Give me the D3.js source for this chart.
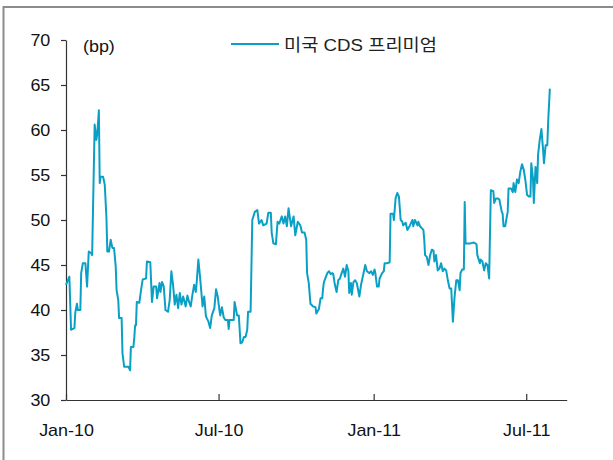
<!DOCTYPE html>
<html>
<head>
<meta charset="utf-8">
<script src="https://cdn.jsdelivr.net/npm/d3@7"></script>
<style>
  html, body { margin: 0; padding: 0; background: #fff; }
  svg { display: block; font-family: "Liberation Sans", Arial, "Noto Sans CJK KR", sans-serif; }
</style>
</head>
<body>
<div id="chart"></div>
<script>
// 미국 CDS 프리미엄 (bp), 2010-01 ~ 2011-07
const seriesName = '미국 CDS 프리미엄';
const unitLabel = '(bp)';
const yTicks = [30, 35, 40, 45, 50, 55, 60, 65, 70];
const xTicks = ['2010-01-01', '2010-07-01', '2011-01-01', '2011-07-01'];
const xDomain = ['2010-01-01', '2011-08-18'];
const yDomain = [30, 70];

const cds2010 = [
  ['2010-01-01',42.8],['2010-01-05',43.7],['2010-01-07',37.8],['2010-01-09',37.9],['2010-01-11',38.0],['2010-01-12',39.7],
  ['2010-01-14',40.7],['2010-01-15',40.0],['2010-01-18',40.0],['2010-01-19',44.1],['2010-01-21',45.2],['2010-01-24',45.2],
  ['2010-01-26',42.6],['2010-01-28',46.5],['2010-01-31',46.3],['2010-02-01',46.1],['2010-02-04',60.6],['2010-02-06',58.9],
  ['2010-02-07',59.5],['2010-02-09',62.2],['2010-02-10',54.1],['2010-02-11',54.8],['2010-02-14',54.8],['2010-02-16',53.9],
  ['2010-02-18',50.2],['2010-02-19',46.5],['2010-02-21',46.5],['2010-02-23',47.8],['2010-02-25',46.9],['2010-02-27',46.9],
  ['2010-03-01',44.8],['2010-03-02',42.2],['2010-03-04',41.1],['2010-03-05',39.1],['2010-03-08',39.1],['2010-03-09',35.2],
  ['2010-03-11',33.7],['2010-03-14',33.7],['2010-03-16',33.7],['2010-03-18',33.3],['2010-03-19',35.9],['2010-03-22',35.9],
  ['2010-03-23',36.9],['2010-03-24',38.3],['2010-03-25',38.3],['2010-03-26',40.9],['2010-03-29',40.8],['2010-03-31',42.2],
  ['2010-04-02',43.4],['2010-04-06',43.5],['2010-04-07',45.4],['2010-04-11',45.3],['2010-04-13',40.9],['2010-04-15',42.6],
  ['2010-04-18',42.6],['2010-04-19',41.3],['2010-04-22',43.0],['2010-04-23',42.0],['2010-04-25',43.1],['2010-04-27',42.6],
  ['2010-04-29',40.0],['2010-05-02',39.8],['2010-05-04',41.1],['2010-05-06',44.3],['2010-05-08',42.8],['2010-05-10',40.6],
  ['2010-05-12',41.7],['2010-05-14',40.2],['2010-05-16',41.9],['2010-05-18',40.6],['2010-05-20',41.5],['2010-05-23',40.4],
  ['2010-05-25',41.6],['2010-05-27',40.9],['2010-05-29',40.4],['2010-05-31',41.7],['2010-06-02',42.8],['2010-06-04',42.0],
  ['2010-06-05',43.0],['2010-06-07',45.6],['2010-06-09',43.7],['2010-06-11',41.5],['2010-06-12',40.4],['2010-06-14',41.5],
  ['2010-06-16',39.3],['2010-06-19',38.7],['2010-06-21',38.0],['2010-06-23',39.4],['2010-06-26',40.2],['2010-06-28',42.3],
  ['2010-06-30',41.5],['2010-07-02',40.0],['2010-07-03',39.4],['2010-07-05',40.3],['2010-07-07',39.2],['2010-07-09',38.9],
  ['2010-07-12',38.9],['2010-07-13',37.9],['2010-07-14',38.9],['2010-07-19',38.9],['2010-07-20',40.9],['2010-07-23',39.4],
  ['2010-07-25',39.4],['2010-07-27',36.3],['2010-07-29',36.4],['2010-07-31',37.0],['2010-08-02',37.0],['2010-08-04',37.8],
  ['2010-08-05',39.8],['2010-08-08',39.8],['2010-08-10',50.0],['2010-08-13',50.9],['2010-08-16',51.1],['2010-08-18',49.6],
  ['2010-08-21',50.0],['2010-08-23',49.4],['2010-08-27',49.6],['2010-08-29',50.8],['2010-09-01',50.8],['2010-09-02',48.6],
  ['2010-09-04',47.4],['2010-09-07',47.3],['2010-09-09',49.8],['2010-09-11',49.6],['2010-09-14',50.4],['2010-09-16',49.6],
  ['2010-09-18',50.4],['2010-09-20',49.3],['2010-09-22',51.3],['2010-09-25',49.3],['2010-09-28',50.4],['2010-09-30',48.3],
  ['2010-10-03',49.8],['2010-10-06',49.4],['2010-10-08',48.6],['2010-10-11',48.6],['2010-10-13',47.8],['2010-10-14',44.1],
  ['2010-10-16',43.0],['2010-10-18',40.7],['2010-10-21',40.4],['2010-10-24',40.3],['2010-10-25',39.6],['2010-10-28',40.1],
  ['2010-10-30',41.3],['2010-11-01',41.3],['2010-11-02',42.4],['2010-11-03',43.1],['2010-11-07',44.1],['2010-11-09',44.3],
  ['2010-11-11',44.0],['2010-11-13',44.1],['2010-11-14',44.0],['2010-11-16',42.8],['2010-11-18',42.0],['2010-11-20',43.3],
  ['2010-11-22',43.5],['2010-11-24',44.1],['2010-11-26',44.6],['2010-11-28',43.7],['2010-11-30',45.0],['2010-12-02',44.3],
  ['2010-12-03',41.9],['2010-12-05',43.0],['2010-12-06',41.7],['2010-12-08',43.1],['2010-12-10',43.3],['2010-12-12',43.0],
  ['2010-12-14',42.0],['2010-12-15',41.5],['2010-12-17',42.8],['2010-12-20',44.1],['2010-12-22',45.0],['2010-12-24',44.3],
  ['2010-12-27',44.1],['2010-12-29',44.3],['2010-12-31',43.9]
];

const cds2011 = [
  ['2011-01-02',44.5],['2011-01-03',44.1],['2011-01-05',42.6],['2011-01-07',42.6],['2011-01-08',43.5],['2011-01-11',44.1],
  ['2011-01-13',44.3],['2011-01-14',45.2],['2011-01-17',45.2],['2011-01-20',45.3],['2011-01-21',50.7],['2011-01-24',50.7],
  ['2011-01-25',50.0],['2011-01-27',52.4],['2011-01-29',53.0],['2011-01-31',52.6],['2011-02-02',50.0],['2011-02-04',49.8],
  ['2011-02-05',49.4],['2011-02-08',49.7],['2011-02-10',48.9],['2011-02-13',49.4],['2011-02-16',50.0],['2011-02-17',49.3],
  ['2011-02-19',50.0],['2011-02-22',49.4],['2011-02-23',49.8],['2011-02-25',49.3],['2011-02-27',49.1],['2011-03-01',48.9],
  ['2011-03-02',47.8],['2011-03-03',46.1],['2011-03-05',45.9],['2011-03-07',45.0],['2011-03-09',46.1],['2011-03-11',46.7],
  ['2011-03-13',46.6],['2011-03-14',45.4],['2011-03-16',46.1],['2011-03-18',44.4],['2011-03-20',44.6],['2011-03-22',45.2],
  ['2011-03-24',44.3],['2011-03-26',44.6],['2011-03-28',44.4],['2011-03-30',43.3],['2011-04-01',42.4],['2011-04-03',42.4],
  ['2011-04-05',38.7],['2011-04-07',41.5],['2011-04-09',43.3],['2011-04-11',43.3],['2011-04-13',42.2],['2011-04-14',44.1],
  ['2011-04-16',44.5],['2011-04-18',44.5],['2011-04-19',52.0],['2011-04-20',47.4],['2011-04-26',47.4],['2011-04-30',47.5],
  ['2011-05-03',47.3],['2011-05-04',46.1],['2011-05-07',45.2],['2011-05-08',45.6],['2011-05-10',45.4],['2011-05-12',44.4],
  ['2011-05-14',45.2],['2011-05-16',45.0],['2011-05-18',43.5],['2011-05-20',53.3],['2011-05-23',53.2],['2011-05-24',51.9],
  ['2011-05-26',52.4],['2011-05-28',52.4],['2011-05-30',52.3],['2011-06-02',50.9],['2011-06-03',50.7],['2011-06-04',49.3],
  ['2011-06-06',49.3],['2011-06-08',50.4],['2011-06-09',50.9],['2011-06-10',53.5],['2011-06-13',53.5],['2011-06-15',53.1],
  ['2011-06-16',54.1],['2011-06-18',53.1],['2011-06-20',54.5],['2011-06-22',54.1],['2011-06-24',55.4],['2011-06-26',56.2],
  ['2011-06-28',55.6],['2011-06-30',54.4],['2011-07-02',52.8],['2011-07-04',52.6],['2011-07-06',52.6],['2011-07-07',56.3],
  ['2011-07-09',54.6],['2011-07-10',51.9],['2011-07-12',55.9],['2011-07-14',54.1],['2011-07-15',57.2],['2011-07-17',58.9],
  ['2011-07-19',60.1],['2011-07-21',57.8],['2011-07-22',56.3],['2011-07-24',58.3],['2011-07-26',58.3],['2011-07-27',60.9],
  ['2011-07-29',64.6]
];

(function () {
  const width = 613, height = 460;
  const parse = d3.timeParse('%Y-%m-%d');
  const lineColor = '#0aa0c6';
  const textStretch = 'scale(1.12,1)';

  const data = cds2010.concat(cds2011).map(([d, v]) => ({ date: parse(d), value: v }));

  const svg = d3.select('#chart').append('svg')
    .attr('width', width).attr('height', height).attr('viewBox', `0 0 ${width} ${height}`);

  // outer frame (only top and left edges are visible in the picture)
  svg.append('rect').attr('x', 3.5).attr('y', 7).attr('width', 800).attr('height', 600)
    .attr('fill', 'none').attr('stroke', '#8c8c8c').attr('stroke-width', 2);

  const x = d3.scaleTime().domain(xDomain.map(parse)).range([66, 566.7]);
  const y = d3.scaleLinear().domain(yDomain).range([400, 40]);

  // y axis
  const gy = svg.append('g').attr('transform', 'translate(66,0)')
    .call(d3.axisLeft(y).tickValues(yTicks).tickSizeInner(5).tickSizeOuter(0).tickPadding(9));
  gy.select('.domain').attr('stroke', '#333').attr('stroke-width', 1.2);
  gy.selectAll('.tick line').attr('stroke', '#333').attr('stroke-width', 1.2);
  gy.selectAll('.tick text')
    .attr('transform', textStretch)
    .style('font-size', '16px').attr('fill', '#111');

  // x axis
  const gx = svg.append('g').attr('transform', 'translate(0,400)')
    .call(d3.axisBottom(x).tickValues(xTicks.map(parse)).tickFormat(d3.timeFormat('%b-%y'))
      .tickSizeInner(-6).tickSizeOuter(0).tickPadding(24.6));
  gx.select('.domain').attr('stroke', '#333').attr('stroke-width', 1.2);
  gx.selectAll('.tick line').attr('stroke', '#333').attr('stroke-width', 1.2);
  gx.selectAll('.tick text')
    .attr('transform', textStretch)
    .style('font-size', '16px').attr('fill', '#111');

  // series
  const line = d3.line().x(d => x(d.date)).y(d => y(d.value));
  svg.append('path').datum(data)
    .attr('d', line)
    .attr('fill', 'none').attr('stroke', lineColor).attr('stroke-width', 2)
    .attr('stroke-linejoin', 'round');

  // unit label
  svg.append('text').attr('transform', `translate(83,52) ${textStretch}`)
    .style('font-size', '16px').attr('fill', '#111').text(unitLabel);

  // legend
  const legend = svg.append('g').attr('transform', 'translate(231,44)');
  legend.append('line').attr('x1', 0).attr('x2', 48).attr('y1', 0).attr('y2', 0)
    .attr('stroke', lineColor).attr('stroke-width', 2);
  legend.append('text').attr('transform', `translate(53,7) scale(1.1,1)`)
    .style('font-size', '17px').attr('fill', '#222').text(seriesName);
})();
</script>
</body>
</html>
